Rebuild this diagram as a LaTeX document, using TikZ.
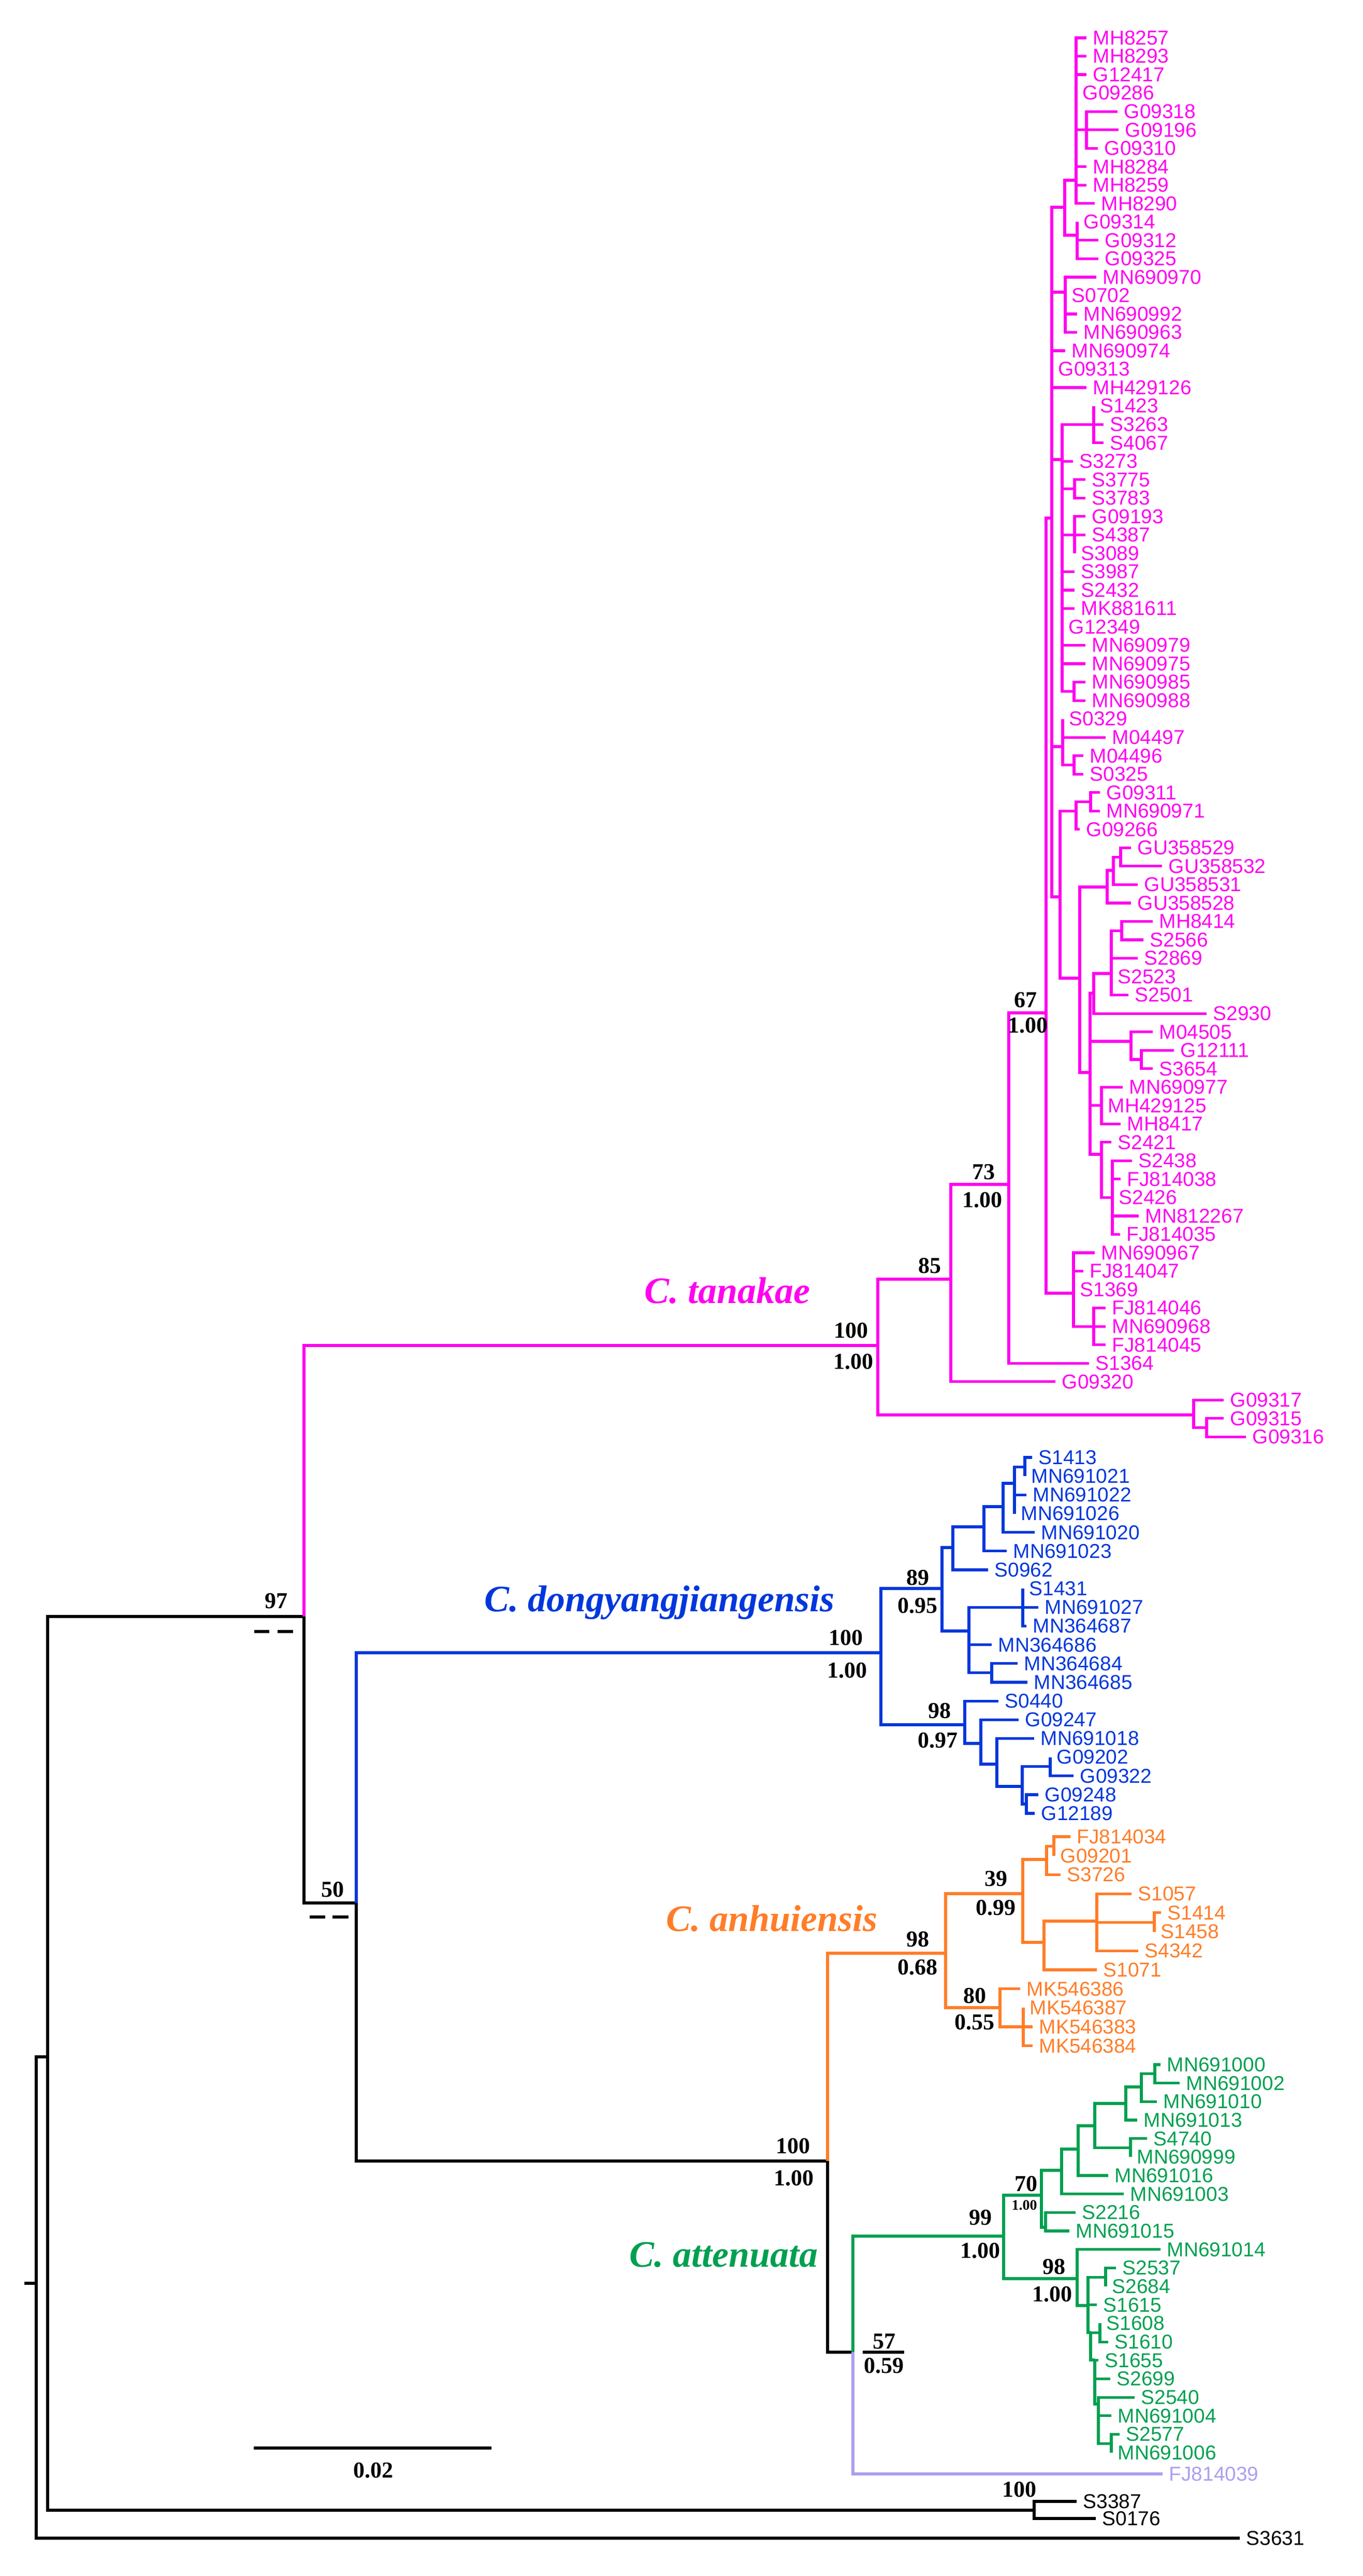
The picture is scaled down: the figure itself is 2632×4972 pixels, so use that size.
\documentclass[tikz,border=0pt]{standalone}
\usepackage{fontspec}
\setmainfont{Liberation Serif}
\newfontfamily\lsans{Liberation Sans}
\definecolor{cmg}{RGB}{255,0,240}
\definecolor{cbl}{RGB}{0,55,220}
\definecolor{cor}{RGB}{255,125,40}
\definecolor{cgr}{RGB}{0,160,80}
\definecolor{clv}{RGB}{170,160,240}
\newcommand\inn[4]{\coordinate (#2) at (#3,{#4}); \draw[br,cur] (#1) |- (#2);}
\newcommand\lf[5]{\coordinate (#2) at (#3,{#4}); \draw[br,cur] (#1) |- (#2); \node[leaf,cur] (#2t) at (#2) {#5};}
\def\ym#1{73+35.53*#1}
\def\yb#1{2813+36.16*#1}
\def\yo#1{3545+36.7*#1}
\def\yg#1{3985+35.67*#1}
\begin{document}
\begin{tikzpicture}[x=0.25pt,y=-0.25pt,
  br/.style={line width=1.3pt,line join=miter},
  leaf/.style={anchor=west,inner xsep=3pt,inner ysep=0pt,font=\lsans\fontsize{9.7}{10}\selectfont},
  sup/.style={font=\bfseries\fontsize{11}{12}\selectfont,inner sep=0pt},
  ssup/.style={font=\bfseries\fontsize{7}{8}\selectfont,inner sep=0pt},
  clade/.style={font=\bfseries\itshape\fontsize{18}{20}\selectfont,inner sep=0pt},
  cur/.style={color=black}]
\useasboundingbox (0,0) rectangle (2632,4972);
% root and outgroup
\coordinate (R0) at (70,4407);
\coordinate (R0s) at (47,4407);
\draw[br] (R0s) -- (R0);
\inn{R0}{N92}{92}{3970}
\lf{R0}{s3631}{2394}{4899}{S3631}
\inn{N92}{OG}{1997}{4845}
\lf{OG}{s3387}{2079}{4828}{S3387}
\lf{OG}{s0176}{2116}{4861}{S0176}
\inn{N92}{N97}{587}{3120}
\inn{N97}{N50}{688}{3673}
\inn{N50}{N100o}{1598}{4171}
\inn{N100o}{N57}{1647}{4540}
% ---------- magenta
\tikzset{cur/.style={color=cmg}}
\inn{N97}{Mr}{1695}{2597}
\inn{Mr}{M85}{1836}{2469}
\inn{M85}{M73}{1948}{2286}
\lf{M85}{m73}{2038}{\ym{73}}{G09320}
\inn{M73}{M67}{2020}{1955}
\lf{M73}{m72}{2103}{\ym{72}}{S1364}
\inn{M67}{MP}{2031}{1000}
\inn{M67}{MQ}{2073}{2496}
\lf{MQ}{m66}{2114}{\ym{66}}{MN690967}
\lf{MQ}{m67}{2092}{\ym{67}}{FJ814047}
\lf{MQ}{m68}{2073}{\ym{68}}{S1369}
\inn{MQ}{MQs}{2112}{\ym{70}}
\lf{MQs}{m69}{2135}{\ym{69}}{FJ814046}
\lf{MQs}{m70}{2135}{\ym{70}}{MN690968}
\lf{MQs}{m71}{2135}{\ym{71}}{FJ814045}
\inn{Mr}{MG}{2305}{2731}
\lf{MG}{m74}{2363}{\ym{74}}{G09317}
\inn{MG}{MGs}{2330}{\ym{75.5}}
\lf{MGs}{m75}{2363}{\ym{75}}{G09315}
\lf{MGs}{m76}{2406}{\ym{76}}{G09316}
\inn{MP}{MA3}{2056}{400}
\inn{MA3}{MA1}{2078}{348}
\inn{MA3}{MA2}{2080}{454}
\lf{MA1}{m0}{2098}{\ym{0}}{MH8257}
\lf{MA1}{m1}{2098}{\ym{1}}{MH8293}
\lf{MA1}{m2}{2098}{\ym{2}}{G12417}
\lf{MA1}{m3}{2078}{\ym{3}}{G09286}
\inn{MA1}{MS1}{2098}{\ym{5}}
\lf{MS1}{m4}{2158}{\ym{4}}{G09318}
\lf{MS1}{m5}{2160}{\ym{5}}{G09196}
\lf{MS1}{m6}{2120}{\ym{6}}{G09310}
\lf{MA1}{m7}{2098}{\ym{7}}{MH8284}
\lf{MA1}{m8}{2098}{\ym{8}}{MH8259}
\lf{MA1}{m9}{2114}{\ym{9}}{MH8290}
\lf{MA2}{m10}{2080}{\ym{10}}{G09314}
\lf{MA2}{m11}{2121}{\ym{11}}{G09312}
\lf{MA2}{m12}{2121}{\ym{12}}{G09325}
\inn{MP}{MC}{2057}{564}
\lf{MC}{m13}{2117}{\ym{13}}{MN690970}
\lf{MC}{m14}{2057}{\ym{14}}{S0702}
\lf{MC}{m15}{2080}{\ym{15}}{MN690992}
\lf{MC}{m16}{2080}{\ym{16}}{MN690963}
\lf{MP}{m17}{2057}{\ym{17}}{MN690974}
\lf{MP}{m18}{2031}{\ym{18}}{G09313}
\lf{MP}{m19}{2098}{\ym{19}}{MH429126}
\inn{MP}{ME}{2051}{887}
\inn{ME}{MD}{2112}{\ym{21}}
\lf{MD}{m20}{2112}{\ym{20}}{S1423}
\lf{MD}{m21}{2131}{\ym{21}}{S3263}
\lf{MD}{m22}{2131}{\ym{22}}{S4067}
\lf{ME}{m23}{2072}{\ym{23}}{S3273}
\inn{ME}{MS24}{2075}{\ym{24.5}}
\lf{MS24}{m24}{2096}{\ym{24}}{S3775}
\lf{MS24}{m25}{2096}{\ym{25}}{S3783}
\inn{ME}{MS26}{2075}{\ym{27}}
\lf{MS26}{m26}{2096}{\ym{26}}{G09193}
\lf{MS26}{m27}{2096}{\ym{27}}{S4387}
\lf{MS26}{m28}{2075}{\ym{28}}{S3089}
\lf{ME}{m29}{2075}{\ym{29}}{S3987}
\lf{ME}{m30}{2075}{\ym{30}}{S2432}
\lf{ME}{m31}{2075}{\ym{31}}{MK881611}
\lf{ME}{m32}{2051}{\ym{32}}{G12349}
\lf{ME}{m33}{2096}{\ym{33}}{MN690979}
\lf{ME}{m34}{2096}{\ym{34}}{MN690975}
\inn{ME}{MS35}{2074}{\ym{35.5}}
\lf{MS35}{m35}{2096}{\ym{35}}{MN690985}
\lf{MS35}{m36}{2096}{\ym{36}}{MN690988}
\inn{MP}{MF}{2052}{\ym{38.5}}
\lf{MF}{m37}{2052}{\ym{37}}{S0329}
\lf{MF}{m38}{2135}{\ym{38}}{M04497}
\inn{MF}{MS39}{2074}{\ym{39.5}}
\lf{MS39}{m39}{2092}{\ym{39}}{M04496}
\lf{MS39}{m40}{2092}{\ym{40}}{S0325}
\inn{MP}{MH0}{2047}{1731}
\inn{MH0}{MG1}{2078}{\ym{42}}
\inn{MG1}{MS41}{2106}{\ym{41.5}}
\lf{MS41}{m41}{2124}{\ym{41}}{G09311}
\lf{MS41}{m42}{2124}{\ym{42}}{MN690971}
\lf{MG1}{m43}{2085}{\ym{43}}{G09266}
\inn{MH0}{MHh}{2085}{1888}
\inn{MHh}{MGU}{2138}{1712}
\inn{MGU}{MGUs}{2150}{1680}
\inn{MGUs}{MGUss}{2164}{\ym{44.5}}
\lf{MGUss}{m44}{2184}{\ym{44}}{GU358529}
\lf{MGUss}{m45}{2244}{\ym{45}}{GU358532}
\lf{MGUs}{m46}{2197}{\ym{46}}{GU358531}
\lf{MGU}{m47}{2184}{\ym{47}}{GU358528}
\inn{MHh}{MI}{2105}{2070}
\inn{MI}{MJ}{2112}{1917}
\inn{MJ}{MK}{2146}{1879}
\inn{MK}{MKs}{2166}{\ym{48.5}}
\lf{MKs}{m48}{2226}{\ym{48}}{MH8414}
\lf{MKs}{m49}{2208}{\ym{49}}{S2566}
\lf{MK}{m50}{2197}{\ym{50}}{S2869}
\lf{MK}{m51}{2146}{\ym{51}}{S2523}
\lf{MK}{m52}{2179}{\ym{52}}{S2501}
\lf{MJ}{m53}{2330}{\ym{53}}{S2930}
\inn{MI}{MM1}{2184}{2010}
\lf{MM1}{m54}{2226}{\ym{54}}{M04505}
\inn{MM1}{MM1s}{2204}{\ym{55.5}}
\lf{MM1s}{m55}{2267}{\ym{55}}{G12111}
\lf{MM1s}{m56}{2226}{\ym{56}}{S3654}
\inn{MI}{MM2}{2127}{\ym{58}}
\lf{MM2}{m57}{2168}{\ym{57}}{MN690977}
\lf{MM2}{m58}{2127}{\ym{58}}{MH429125}
\lf{MM2}{m59}{2164}{\ym{59}}{MH8417}
\inn{MI}{MM3}{2127}{2228}
\lf{MM3}{m60}{2146}{\ym{60}}{S2421}
\inn{MM3}{MM3s}{2148}{\ym{63}}
\lf{MM3s}{m61}{2186}{\ym{61}}{S2438}
\lf{MM3s}{m62}{2164}{\ym{62}}{FJ814038}
\lf{MM3s}{m63}{2148}{\ym{63}}{S2426}
\lf{MM3s}{m64}{2199}{\ym{64}}{MN812267}
\lf{MM3s}{m65}{2163}{\ym{65}}{FJ814035}
\node[clade,cmg,anchor=base east] (tT) at (1565,2515) {C. tanakae};
% ---------- blue
\tikzset{cur/.style={color=cbl}}
\inn{N50}{B100}{1701}{3190}
\inn{B100}{B89}{1819}{3066}
\inn{B89}{BQ}{1840}{2987}
\inn{BQ}{BR}{1900}{2947}
\inn{BR}{BS}{1937}{2908}
\inn{BS}{BT}{1959}{2863}
\inn{BT}{BTs}{1979}{\yb{0.5}}
\lf{BTs}{b0}{1993}{\yb{0}}{S1413}
\lf{BTs}{b1}{1979}{\yb{1}}{MN691021}
\lf{BT}{b2}{1982}{\yb{2}}{MN691022}
\lf{BT}{b3}{1959}{\yb{3}}{MN691026}
\lf{BS}{b4}{1998}{\yb{4}}{MN691020}
\lf{BR}{b5}{1944}{\yb{5}}{MN691023}
\lf{BQ}{b6}{1908}{\yb{6}}{S0962}
\inn{B89}{BU}{1871}{3148}
\inn{BU}{BV}{1975}{\yb{8}}
\lf{BV}{b7}{1975}{\yb{7}}{S1431}
\lf{BV}{b8}{2005}{\yb{8}}{MN691027}
\lf{BV}{b9}{1982}{\yb{9}}{MN364687}
\lf{BU}{b10}{1915}{\yb{10}}{MN364686}
\inn{BU}{BW}{1915}{\yb{11.5}}
\lf{BW}{b11}{1965}{\yb{11}}{MN364684}
\lf{BW}{b12}{1984}{\yb{12}}{MN364685}
\inn{B100}{B98}{1863}{3329}
\lf{B98}{b13}{1928}{\yb{13}}{S0440}
\inn{B98}{BX}{1894}{3365}
\lf{BX}{b14}{1967}{\yb{14}}{G09247}
\inn{BX}{BY}{1925}{3405}
\lf{BY}{b15}{1997}{\yb{15}}{MN691018}
\inn{BY}{BZ}{1974}{3448}
\inn{BZ}{BZ1}{2028}{\yb{16.5}}
\lf{BZ1}{b16}{2028}{\yb{16}}{G09202}
\lf{BZ1}{b17}{2073}{\yb{17}}{G09322}
\inn{BZ}{BZ2}{1982}{\yb{18.5}}
\lf{BZ2}{b18}{2005}{\yb{18}}{G09248}
\lf{BZ2}{b19}{1998}{\yb{19}}{G12189}
\node[clade,cbl,anchor=base east] (tD) at (1612,3110) {C. dongyangjiangensis};
% ---------- orange
\tikzset{cur/.style={color=cor}}
\inn{N100o}{O98}{1826}{3770}
\inn{O98}{O39}{1975}{3655}
\inn{O39}{O1}{2021}{3589}
\inn{O1}{O1s}{2035}{\yo{0.5}}
\lf{O1s}{o0}{2067}{\yo{0}}{FJ814034}
\lf{O1s}{o1}{2035}{\yo{1}}{G09201}
\lf{O1}{o2}{2048}{\yo{2}}{S3726}
\inn{O39}{O2}{2016}{3749}
\inn{O2}{O3}{2118}{3708}
\lf{O3}{o3}{2185}{\yo{3}}{S1057}
\inn{O3}{O3s}{2229}{\yo{4.5}}
\lf{O3s}{o4}{2242}{\yo{4}}{S1414}
\lf{O3s}{o5}{2229}{\yo{5}}{S1458}
\lf{O3}{o6}{2198}{\yo{6}}{S4342}
\lf{O2}{o7}{2118}{\yo{7}}{S1071}
\inn{O98}{O80}{1931}{3875}
\lf{O80}{o8}{1970}{\yo{8}}{MK546386}
\inn{O80}{O80s}{1976}{\yo{10}}
\lf{O80s}{o9}{1976}{\yo{9}}{MK546387}
\lf{O80s}{o10}{1994}{\yo{10}}{MK546383}
\lf{O80s}{o11}{1994}{\yo{11}}{MK546384}
\node[clade,cor,anchor=base east] (tA) at (1695,3727) {C. anhuiensis};
% ---------- green
\tikzset{cur/.style={color=cgr}}
\inn{N57}{G99}{1938}{4316}
\inn{G99}{G70}{2011}{4237}
\inn{G70}{GA}{2050}{4189}
\inn{GA}{GA1}{2082}{4148}
\inn{GA1}{GA2}{2114}{4103}
\inn{GA2}{GA3}{2174}{4060}
\inn{GA3}{GA5}{2204}{4028}
\inn{GA5}{GA6}{2230}{\yg{0.5}}
\lf{GA6}{g0}{2241}{\yg{0}}{MN691000}
\lf{GA6}{g1}{2278}{\yg{1}}{MN691002}
\lf{GA5}{g2}{2234}{\yg{2}}{MN691010}
\lf{GA3}{g3}{2196}{\yg{3}}{MN691013}
\inn{GA2}{GA4}{2183}{\yg{4.5}}
\lf{GA4}{g4}{2215}{\yg{4}}{S4740}
\lf{GA4}{g5}{2183}{\yg{5}}{MN690999}
\lf{GA1}{g6}{2140}{\yg{6}}{MN691016}
\lf{GA}{g7}{2170}{\yg{7}}{MN691003}
\inn{G70}{GB}{2019}{4299}
\lf{GB}{g8}{2077}{\yg{8}}{S2216}
\lf{GB}{g9}{2065}{\yg{9}}{MN691015}
\inn{G99}{G98}{2080}{4398}
\lf{G98}{g10}{2241}{\yg{10}}{MN691014}
\inn{G98}{GG1}{2101}{4450}
\inn{GG1}{GG1s}{2135}{\yg{11.5}}
\lf{GG1s}{g11}{2155}{\yg{11}}{S2537}
\lf{GG1s}{g12}{2135}{\yg{12}}{S2684}
\lf{GG1}{g13}{2118}{\yg{13}}{S1615}
\inn{GG1}{GG2}{2106}{4502}
\inn{GG2}{GG2s}{2124}{\yg{14.5}}
\lf{GG2s}{g14}{2124}{\yg{14}}{S1608}
\lf{GG2s}{g15}{2140}{\yg{15}}{S1610}
\inn{GG2}{GG3}{2114}{4555}
\lf{GG3}{g16}{2121}{\yg{16}}{S1655}
\lf{GG3}{g17}{2144}{\yg{17}}{S2699}
\inn{GG3}{GG4}{2121}{4640}
\lf{GG4}{g18}{2191}{\yg{18}}{S2540}
\lf{GG4}{g19}{2146}{\yg{19}}{MN691004}
\inn{GG4}{GG4s}{2146}{\yg{20.5}}
\lf{GG4s}{g20}{2162}{\yg{20}}{S2577}
\lf{GG4s}{g21}{2146}{\yg{21}}{MN691006}
\node[clade,cgr,anchor=base east] (tG) at (1580,4375) {C. attenuata};
\tikzset{cur/.style={color=clv}}
\lf{N57}{fj39}{2245}{4775}{FJ814039}
% ---------- support values
\node[sup] (l1) at (1643,2568) {100};
\node[sup] (l2) at (1648,2628) {1.00};
\node[sup] (l3) at (1795,2443) {85};
\node[sup] (l4) at (1899,2262) {73};
\node[sup] (l5) at (1897,2316) {1.00};
\node[sup] (l6) at (1980,1930) {67};
\node[sup] (l7) at (1985,1979) {1.00};
\node[sup] (l8) at (533,3090) {97};
\node[sup] (l9) at (642,3647) {50};
\node[sup] (l10) at (1633,3161) {100};
\node[sup] (l11) at (1636,3224) {1.00};
\node[sup] (l12) at (1772,3045) {89};
\node[sup] (l13) at (1772,3099) {0.95};
\node[sup] (l14) at (1814,3302) {98};
\node[sup] (l15) at (1811,3359) {0.97};
\node[sup] (l16) at (1772,3743) {98};
\node[sup] (l17) at (1772,3797) {0.68};
\node[sup] (l18) at (1923,3626) {39};
\node[sup] (l19) at (1923,3682) {0.99};
\node[sup] (l20) at (1882,3852) {80};
\node[sup] (l21) at (1882,3903) {0.55};
\node[sup] (l22) at (1531,4142) {100};
\node[sup] (l23) at (1533,4204) {1.00};
\node[sup] (l24) at (1707,4519) {57};
\node[sup] (l25) at (1707,4566) {0.59};
\node[sup] (l26) at (1893,4280) {99};
\node[sup] (l27) at (1893,4344) {1.00};
\node[sup] (l28) at (1981,4215) {70};
\node[ssup] (l29) at (1978,4256) {1.00};
\node[sup] (l30) at (2035,4375) {98};
\node[sup] (l31) at (2032,4428) {1.00};
\node[sup] (l32) at (1968,4805) {100};
% dashes and bars
\coordinate (d1a) at (491,3149); \coordinate (d1b) at (520,3149);
\coordinate (d1c) at (536,3149); \coordinate (d1d) at (566,3149);
\draw[br] (d1a) -- (d1b); \draw[br] (d1c) -- (d1d);
\coordinate (d2a) at (598,3700); \coordinate (d2b) at (628,3700);
\coordinate (d2c) at (642,3700); \coordinate (d2d) at (673,3700);
\draw[br] (d2a) -- (d2b); \draw[br] (d2c) -- (d2d);
\coordinate (b57a) at (1666,4540); \coordinate (b57b) at (1746,4540);
\draw[br] (b57a) -- (b57b);
% scale bar
\coordinate (sba) at (490,4725); \coordinate (sbb) at (949,4725);
\draw[br] (sba) -- (sbb);
\node[sup] (sbl) at (721,4768) {0.02};
\end{tikzpicture}
\end{document}
